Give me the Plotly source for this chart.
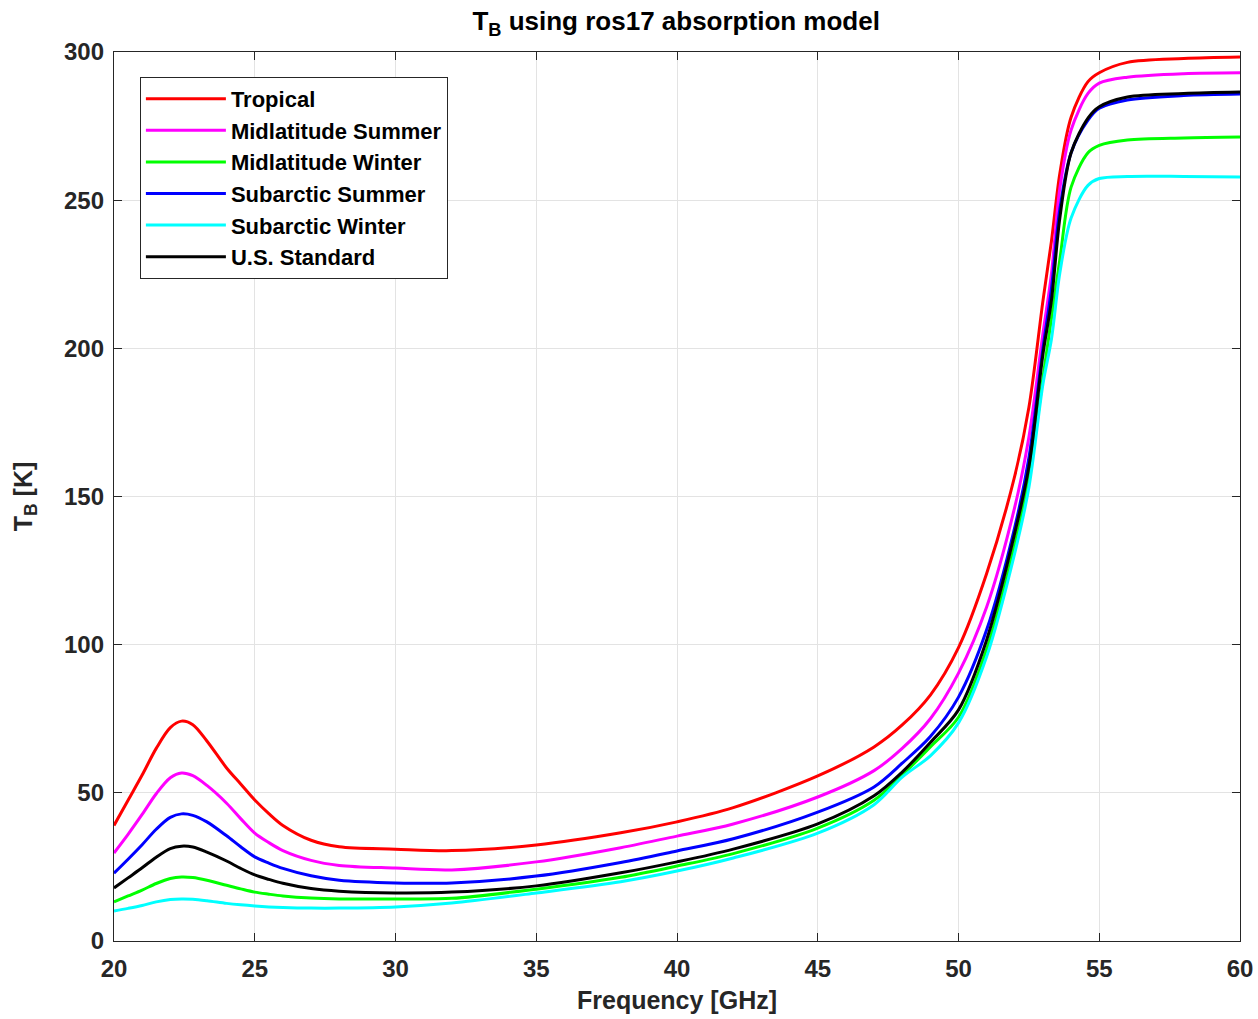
import plotly.graph_objects as go

freq = [20, 20.5, 21, 21.5, 22, 22.4, 22.8, 23.3, 24, 24.5, 25, 25.5, 26, 27, 28, 30, 32, 35, 38, 40, 42, 45,
        47, 48, 49, 50, 51, 52, 52.5, 53, 53.3, 53.6, 54.0, 54.6, 55, 56, 58, 60]

tropical = [39.0, 47.5, 56.0, 65.0, 72.0, 74.2, 73.0, 67.5, 58.4, 53.0, 47.6, 43.0, 39.0, 34.0, 31.8, 31.0, 30.5, 32.4,
            36.5, 40.2, 45.0, 55.7, 65.5, 72.9, 83.0, 99.0, 124.0, 157.0, 180.0, 216.0, 236.0, 259.0,
            278.0, 290.0, 293.0, 296.5, 297.8, 298.3]
mid_summer = [29.7, 36.0, 42.7, 49.7, 55.1, 56.7, 55.8, 52.5, 46.5, 41.3, 36.4, 33.2, 30.5, 27.2, 25.5, 24.6, 24.0, 26.7,
              31.5, 35.4, 39.5, 48.6, 57.5, 65.0, 75.0, 90.4, 112.7, 146.5, 170.0, 205.0, 225.0, 254.0,
              273.7, 286.0, 289.5, 291.5, 292.7, 293.0]
mid_winter = [13.2, 15.2, 17.2, 19.4, 21.1, 21.6, 21.4, 20.5, 18.8, 17.6, 16.5, 15.8, 15.2, 14.5, 14.2, 14.2, 14.4, 17.5,
              21.5, 25.3, 29.5, 38.1, 47.5, 56.0, 65.5, 75.5, 98.5, 134.0, 156.0, 190.0, 210.0, 230.0,
              254.4, 266.0, 268.5, 270.3, 271.0, 271.3]
sub_summer = [22.9, 27.6, 32.5, 37.7, 41.7, 42.9, 42.4, 40.2, 35.5, 31.8, 28.4, 26.3, 24.5, 22.0, 20.5, 19.6, 19.6, 21.9,
              26.5, 30.4, 34.5, 43.5, 52.0, 60.0, 69.0, 82.3, 105.0, 139.7, 163.0, 200.0, 220.0, 247.0,
              266.0, 277.0, 281.0, 283.8, 285.3, 285.8]
sub_winter = [10.1, 11.0, 12.0, 13.2, 14.0, 14.2, 14.1, 13.6, 12.7, 12.2, 11.8, 11.5, 11.3, 11.1, 11.1, 11.5, 12.8, 16.2,
              20.0, 23.6, 28.0, 36.4, 46.0, 55.3, 62.5, 73.6, 96.0, 131.0, 153.0, 188.0, 203.0, 225.4,
              244.0, 255.0, 257.3, 258.0, 258.0, 257.8]
us_standard = [17.9, 21.3, 24.7, 28.3, 31.2, 32.0, 31.7, 30.0, 27.0, 24.5, 22.3, 20.8, 19.5, 17.7, 16.8, 16.2, 16.5, 18.6,
               23.0, 26.7, 31.0, 39.5, 49.0, 57.0, 67.0, 78.0, 101.6, 137.7, 160.0, 198.0, 216.0, 244.0,
               266.0, 277.7, 281.5, 284.8, 286.0, 286.5]

series = [
    ("Tropical", tropical, "#ff0000"),
    ("Midlatitude Summer", mid_summer, "#ff00ff"),
    ("Midlatitude Winter", mid_winter, "#00ff00"),
    ("Subarctic Summer", sub_summer, "#0000ff"),
    ("Subarctic Winter", sub_winter, "#00ffff"),
    ("U.S. Standard", us_standard, "#000000"),
]

x_ticks = [20, 25, 30, 35, 40, 45, 50, 55, 60]
y_ticks = [0, 50, 100, 150, 200, 250, 300]

fig = go.Figure()
for name, vals, col in series:
    fig.add_trace(go.Scatter(x=freq, y=vals, name=f"<b>{name}</b>", mode="lines",
                             line=dict(color=col, width=3, shape="spline", smoothing=0.9)))

axis_common = dict(showline=True, linecolor="#262626", linewidth=1.3, mirror="ticks",
                   ticks="inside", ticklen=8, tickcolor="#262626", automargin=False,
                   showgrid=True, gridcolor="#e3e3e3", gridwidth=1, zeroline=False,
                   tickfont=dict(family="Liberation Sans", size=24, color="#262626"))

fig.update_layout(
    width=1258, height=1019,
    margin=dict(l=114, r=18, t=52, b=78),
    paper_bgcolor="white", plot_bgcolor="white",
    font=dict(family="Liberation Sans", color="#262626"),
    title=dict(text="<b>T<sub>B</sub> using ros17 absorption model</b>", x=0.5375, xanchor="center",
               y=0.988, yanchor="top", font=dict(size=26, color="#000000")),
    xaxis=dict(range=[20, 60], tickvals=x_ticks, ticktext=[f"<b>{v}</b>" for v in x_ticks],
               ticklabelstandoff=6,
               title=dict(text="<b>Frequency [GHz]</b>", font=dict(size=25), standoff=10), **axis_common),
    yaxis=dict(range=[0, 300], tickvals=y_ticks, ticktext=[f"<b>{v}</b>" for v in y_ticks],
               ticklabelstandoff=4,
               title=dict(text="<b>T<sub>B</sub> [K]</b>", font=dict(size=25), standoff=24), **axis_common),
    legend=dict(x=0.023, y=0.972, xanchor="left", yanchor="top",
                bgcolor="white", bordercolor="#262626", borderwidth=1,
                font=dict(family="Liberation Sans", size=22, color="#000000"),
                tracegroupgap=0, itemwidth=80),
    showlegend=True,
)

fig.write_html("out.html")
